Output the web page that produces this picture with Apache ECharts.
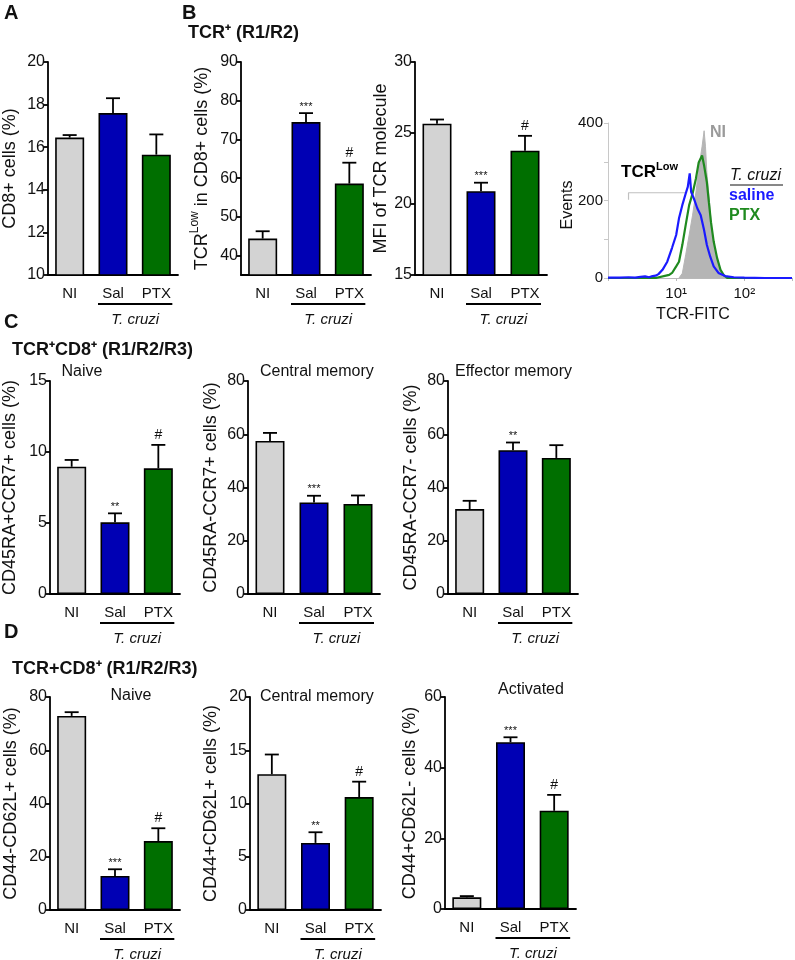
<!DOCTYPE html>
<html><head><meta charset="utf-8">
<script src="https://cdn.jsdelivr.net/npm/echarts@6/dist/echarts.min.js"></script>
<style>html,body{margin:0;padding:0;background:#fff}#c{width:795px;height:960px}</style>
</head><body><div id="c"></div>
<script>
// ---------- data ----------
const groups = ['NI', 'Sal', 'PTX'];
const barColors = ['#d3d3d3', '#0000b4', '#006f00'];

const aMean = [16.45, 17.6, 15.65];
const aErr  = [0.12, 0.7, 0.95];
const aSig  = ['', '', ''];

const b1Mean = [44.4, 74.5, 58.6];
const b1Err  = [1.9, 2.3, 5.4];
const b1Sig  = ['', '***', '#'];

const b2Mean = [25.65, 20.9, 23.75];
const b2Err  = [0.3, 0.6, 1.05];
const b2Sig  = ['', '***', '#'];

const c1Mean = [8.96, 5.05, 8.85];
const c1Err  = [0.48, 0.63, 1.65];
const c1Sig  = ['', '**', '#'];

const c2Mean = [57.5, 34.4, 33.8];
const c2Err  = [3.0, 2.5, 3.2];
const c2Sig  = ['', '***', ''];

const c3Mean = [31.9, 54.0, 51.1];
const c3Err  = [3.1, 2.9, 4.8];
const c3Sig  = ['', '**', ''];

const d1Mean = [72.9, 12.8, 25.9];
const d1Err  = [1.4, 2.5, 4.8];
const d1Sig  = ['', '***', '#'];

const d2Mean = [12.75, 6.3, 10.6];
const d2Err  = [1.85, 1.0, 1.45];
const d2Sig  = ['', '**', '#'];

const d3Mean = [3.3, 47.2, 27.8];
const d3Err  = [0.35, 1.4, 4.5];
const d3Sig  = ['', '***', '#'];

const b1Ticks = [40, 50, 60, 70, 80, 90];

// histogram (TCR-FITC intensity vs events)
const niX  = [11, 12.3, 13.8, 15.5, 17.4, 19.5, 21.4, 24, 25.7, 26.9, 28.2, 30.9, 33.1, 37.2, 41.7, 46.8, 52.5];
const niY  = [0, 12, 60, 111, 162, 222, 281, 340, 380, 340, 272, 195, 127, 68, 30, 8, 0];
const salX = [1, 1.5, 2, 2.5, 3, 3.5, 4, 4.5, 5, 5.5, 6.3, 7.4, 8.7, 10, 11, 12.3, 13.8, 14.8, 15.8, 16.6, 18.2, 20.4, 22.9, 25.7, 28.2, 31.6, 35.5, 41.7, 52.5, 70, 100, 200, 500];
const salY = [1, 1, 2, 1, 3, 4, 2, 5, 6, 10, 21, 42, 78, 111, 154, 188, 218, 235, 270, 222, 205, 180, 162, 123, 85, 55, 30, 13, 5, 2, 1, 0, 0];
const ptxX = [1, 5, 7.9, 8.7, 10, 11, 12.3, 13.8, 15.5, 17.4, 19.5, 21.4, 24, 25.7, 28.2, 30.2, 32.4, 35.5, 39.8, 44.7, 50.1, 56, 100, 500];
const ptxY = [0, 0, 8, 13, 30, 42, 85, 137, 188, 218, 257, 298, 316, 290, 247, 195, 144, 94, 52, 21, 7, 0, 0, 0];
const gateX = [2, 2, 14.5];
const gateY = [202, 220, 220];

// ---------- layout ----------
const FF = "'Liberation Sans', Arial, Helvetica, sans-serif";
const panels = [
  {mean:aMean, err:aErr, sig:aSig, min:10, max:20, interval:2, name:'CD8+ cells (%)', gap:29,
   grid:{left:47, top:62, width:131, height:213}},
  {mean:b1Mean, err:b1Err, sig:b1Sig, min:35, max:90, custom:b1Ticks, name:'{n|TCR}{s|Low}{n| in CD8+ cells (%)}', gap:26,
   grid:{left:241, top:62, width:130, height:213}},
  {mean:b2Mean, err:b2Err, sig:b2Sig, min:15, max:30, interval:5, name:'MFI of TCR molecule', gap:19,
   grid:{left:415, top:62, width:132, height:213}},
  {mean:c1Mean, err:c1Err, sig:c1Sig, min:0, max:15, interval:5, name:'CD45RA+CCR7+ cells (%)', gap:31,
   grid:{left:49, top:381, width:131, height:213}},
  {mean:c2Mean, err:c2Err, sig:c2Sig, min:0, max:80, interval:20, name:'CD45RA-CCR7+ cells (%)', gap:28,
   grid:{left:248, top:381, width:132, height:213}},
  {mean:c3Mean, err:c3Err, sig:c3Sig, min:0, max:80, interval:20, name:'CD45RA-CCR7- cells (%)', gap:28,
   grid:{left:448, top:381, width:130, height:213}},
  {mean:d1Mean, err:d1Err, sig:d1Sig, min:0, max:80, interval:20, name:'CD44-CD62L+ cells (%)', gap:30,
   grid:{left:50, top:697, width:130, height:213}},
  {mean:d2Mean, err:d2Err, sig:d2Sig, min:0, max:20, interval:5, name:'CD44+CD62L+ cells (%)', gap:30,
   grid:{left:250, top:697, width:131, height:213}},
  {mean:d3Mean, err:d3Err, sig:d3Sig, min:0, max:60, interval:20, name:'CD44+CD62L- cells (%)', gap:26,
   grid:{left:445, top:697, width:131, height:212}}
];
const histGrid = {left:608, top:123, width:187, height:155};

const grids = [], xAxes = [], yAxes = [], series = [];
const axisCol = '#000';
panels.forEach((p, i) => {
  grids.push(Object.assign({containLabel:false}, p.grid));
  xAxes.push({
    gridIndex:i, type:'category', data:groups,
    axisLine:{lineStyle:{color:axisCol, width:1.8}}, axisTick:{show:false},
    axisLabel:{fontSize:15, color:'#111', margin:11, fontFamily:FF}
  });
  const y = {
    gridIndex:i, type:'value', min:p.min, max:p.max,
    axisLine:{show:true, lineStyle:{color:axisCol, width:1.8}},
    axisTick:{show:true, length:5, lineStyle:{color:axisCol, width:1.8}},
    splitLine:{show:false},
    axisLabel:{fontSize:16, color:'#111', margin:3, fontFamily:FF},
    name:p.name, nameLocation:'middle', nameRotate:90, nameGap:p.gap,
    nameTextStyle:{fontSize:18, color:'#111', fontFamily:FF,
      rich:{n:{fontSize:18, color:'#111', fontFamily:FF, lineHeight:26},
            s:{fontSize:12, color:'#111', fontFamily:FF, lineHeight:14, verticalAlign:'top'}}}
  };
  if (p.custom) {
    y.axisLabel.customValues = p.custom;
    y.axisTick.customValues = p.custom;
  } else {
    y.interval = p.interval;
  }
  yAxes.push(y);
  series.push({
    type:'bar', xAxisIndex:i, yAxisIndex:i, barWidth:29, silent:true, z:2,
    itemStyle:{borderColor:'#000', borderWidth:1.6},
    data:p.mean.map((v, j) => ({value:v, itemStyle:{color:barColors[j]}}))
  });
  const sig = p.sig;
  series.push({
    type:'custom', xAxisIndex:i, yAxisIndex:i, silent:true, z:3,
    data:p.mean.map((v, j) => [j, v, p.err[j]]),
    renderItem:(params, api) => {
      const c = api.value(0), m = api.value(1), e = api.value(2);
      const p0 = api.coord([c, m]), p1 = api.coord([c, m + e]);
      const cap = 7;
      const ch = [
        {type:'line', shape:{x1:p0[0], y1:p0[1], x2:p1[0], y2:p1[1]}, style:{stroke:'#000', lineWidth:1.8}},
        {type:'line', shape:{x1:p1[0]-cap, y1:p1[1], x2:p1[0]+cap, y2:p1[1]}, style:{stroke:'#000', lineWidth:1.8}}
      ];
      const s = sig[params.dataIndex];
      if (s) {
        const isHash = s === '#';
        ch.push({type:'text', x:p1[0], y:p1[1] - (isHash ? 3 : 1),
          style:{text:s, fill:'#111', fontSize:isHash ? 14 : 11, fontFamily:FF, align:'center', verticalAlign:'bottom'}});
      }
      return {type:'group', children:ch};
    }
  });
});

// histogram grid
const hi = panels.length;
grids.push(histGrid);
xAxes.push({
  gridIndex:hi, type:'log', logBase:10, min:1, max:500,
  axisLine:{lineStyle:{color:'#b8b8b8', width:1}},
  axisTick:{show:true, length:3, lineStyle:{color:'#b8b8b8'}},
  splitLine:{show:false}, minorTick:{show:false},
  axisLabel:{fontSize:15, color:'#111', margin:8, fontFamily:FF,
    formatter:v => { const e = Math.round(Math.log10(v)); return e === 1 ? '10¹' : e === 2 && Math.abs(v-100) < 1 ? '10²' : ''; }}
});
yAxes.push({
  gridIndex:hi, type:'value', min:0, max:400, interval:100,
  axisLine:{show:true, lineStyle:{color:'#c8c8c8', width:1}},
  axisTick:{show:true, length:4, lineStyle:{color:'#c8c8c8'}},
  splitLine:{show:false},
  axisLabel:{fontSize:15, color:'#111', margin:5, fontFamily:FF, formatter:v => (v % 200 === 0 ? String(v) : '')}
});
const zip = (xs, ys) => xs.map((x, k) => [x, ys[k]]);
series.push({type:'line', xAxisIndex:hi, yAxisIndex:hi, data:zip(niX, niY), showSymbol:false, silent:true, z:2,
  lineStyle:{color:'#b5b5b5', width:1}, areaStyle:{color:'#b5b5b5', opacity:1}});
series.push({type:'line', xAxisIndex:hi, yAxisIndex:hi, data:zip(gateX, gateY), showSymbol:false, silent:true, z:2,
  lineStyle:{color:'#c0c0c0', width:1.2}});
series.push({type:'line', xAxisIndex:hi, yAxisIndex:hi, data:zip(ptxX, ptxY), showSymbol:false, silent:true, z:3,
  lineStyle:{color:'#1f8a1f', width:2.2}});
series.push({type:'line', xAxisIndex:hi, yAxisIndex:hi, data:zip(salX, salY), showSymbol:false, silent:true, z:4,
  lineStyle:{color:'#1a1aff', width:2.2}});

const chart = echarts.init(document.getElementById('c'), null, {renderer:'canvas'});
chart.setOption({
  animation:false, backgroundColor:'#fff',
  grid:grids, xAxis:xAxes, yAxis:yAxes, series:series
});

// ---------- annotations ----------
const T = (x, y, text, o) => Object.assign({type:'text', x:x, y:y, silent:true,
  style:Object.assign({text:text, fill:'#111', fontSize:15, fontFamily:FF, align:'left', verticalAlign:'middle'}, (o && o.style) || {})},
  o && o.rotation ? {rotation:o.rotation} : {});
const bold = (sz, extra) => ({style:Object.assign({fontWeight:'bold', fontSize:sz}, extra || {})});

const g = [];
g.push(T(4, 13, 'A', bold(20)));
g.push(T(182, 13, 'B', bold(20)));
g.push(T(188, 33, 'TCR⁺ (R1/R2)', bold(18)));
g.push(T(4, 322, 'C', bold(20)));
g.push(T(12, 350, 'TCR⁺CD8⁺ (R1/R2/R3)', bold(18)));
g.push(T(4, 632, 'D', bold(20)));
g.push(T(12, 669, 'TCR+CD8⁺ (R1/R2/R3)', bold(18)));

g.push(T(82, 372, 'Naive', {style:{align:'center', fontSize:16}}));
g.push(T(260, 372, 'Central memory', {style:{fontSize:16}}));
g.push(T(455, 372, 'Effector memory', {style:{fontSize:16}}));
g.push(T(131, 696, 'Naive', {style:{align:'center', fontSize:16}}));
g.push(T(260, 697, 'Central memory', {style:{fontSize:16}}));
g.push(T(531, 690, 'Activated', {style:{align:'center', fontSize:16}}));

// T. cruzi underline under Sal / PTX for each bar panel
panels.forEach((p, i) => {
  const ps = chart.convertToPixel({gridIndex:i}, [1, p.min]);
  const pp = chart.convertToPixel({gridIndex:i}, [2, p.min]);
  const yb = ps[1];
  const x1 = ps[0] - 15, x2 = pp[0] + 16;
  g.push({type:'line', silent:true, shape:{x1:x1, y1:yb + 29, x2:x2, y2:yb + 29}, style:{stroke:'#000', lineWidth:1.8}});
  g.push(T((x1 + x2) / 2, yb + 45, 'T. cruzi', {style:{align:'center', fontSize:15, fontStyle:'italic'}}));
});

// histogram annotations
g.push(T(710, 133, 'NI', bold(16, {fill:'#9a9a9a'})));
g.push({type:'text', x:621, y:172, silent:true, style:{
  text:'{b|TCR}{s|Low}', verticalAlign:'middle', align:'left',
  rich:{b:{fontSize:17, fontWeight:'bold', fill:'#000', fontFamily:FF, lineHeight:22},
        s:{fontSize:11, fontWeight:'bold', fill:'#000', fontFamily:FF, lineHeight:13, verticalAlign:'top'}}}});
g.push(T(730, 176, 'T. cruzi', {style:{fontSize:16, fontStyle:'italic'}}));
g.push({type:'line', silent:true, shape:{x1:730, y1:185, x2:783, y2:185}, style:{stroke:'#111', lineWidth:1}});
g.push(T(729, 196, 'saline', bold(16, {fill:'#1a1aff'})));
g.push(T(729, 216, 'PTX', bold(16, {fill:'#1f8a1f'})));
g.push(T(693, 315, 'TCR-FITC', {style:{align:'center', fontSize:16}}));
g.push(T(568, 205, 'Events', {style:{align:'center', fontSize:16}, rotation:Math.PI / 2}));

chart.setOption({graphic:g});
</script>
</body></html>
